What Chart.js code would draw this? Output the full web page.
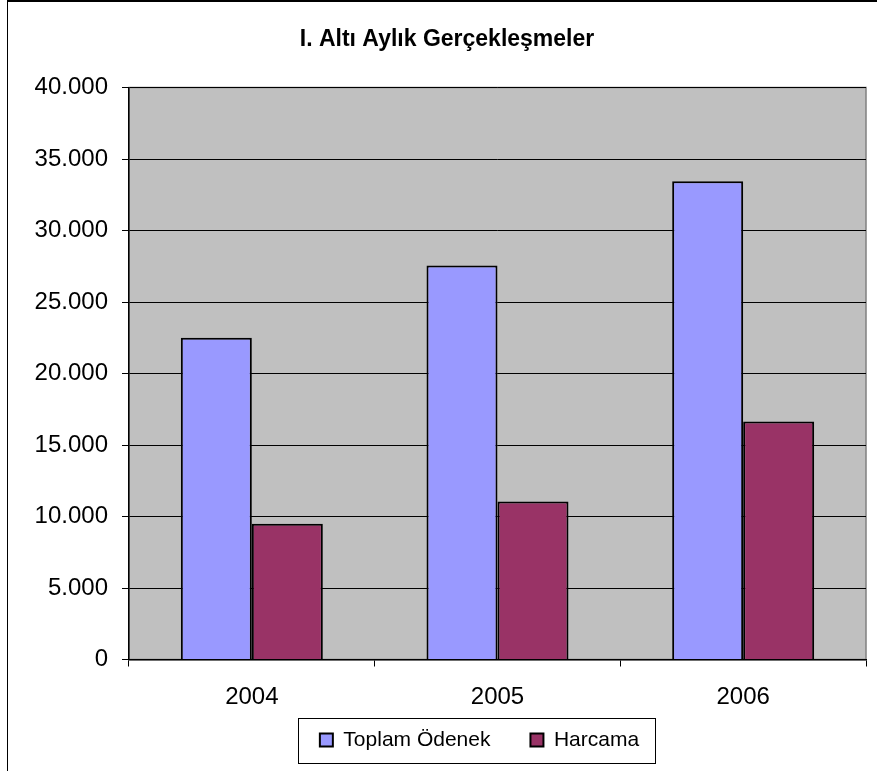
<!DOCTYPE html>
<html>
<head>
<meta charset="utf-8">
<script src="https://cdn.jsdelivr.net/npm/chart.js@4"></script>
<style>
  body { margin: 0; background: #fff; }
  #wrap { position: relative; width: 877px; height: 771px; }
  #frame { position: absolute; left: 7px; top: 0; right: -5px; bottom: -5px;
           border-left: 1.5px solid #000; border-top: 2px solid #000; pointer-events: none; }
</style>
</head>
<body>
<div id="wrap">
  <canvas id="chart" width="877" height="771"></canvas>
  <div id="frame"></div>
</div>
<script>
const years = ['2004', '2005', '2006'];
const toplamOdenek = [22500, 27550, 33450];
const harcama = [9500, 11050, 16650];
const yTicks = { min: 0, max: 40000, step: 5000 };

// 40000 -> "40.000"
function fmt(v) {
    return String(v).replace(/\B(?=(\d{3})+(?!\d))/g, '.');
}

// gray plot background + frame, legend border box
const plotBg = {
    id: 'plotBg',
    afterLayout(chart) {
        // x labels sit lower than the axis box allows, don't clip them
        chart.scales.x.bottom = chart.legend.bottom;
        // legend in the reference is pushed right of the title's centre
        chart.legend.left += 65;
    },
    beforeDraw(chart) {
        const a = chart.chartArea, ctx = chart.ctx;
        ctx.save();
        ctx.fillStyle = '#C0C0C0';
        ctx.fillRect(a.left, a.top, a.right - a.left, a.bottom - a.top);
        ctx.strokeStyle = '#808080';
        ctx.lineWidth = 1.5;
        ctx.strokeRect(a.left, a.top, a.right - a.left, a.bottom - a.top);
        ctx.restore();
    },
    afterDraw(chart) {
        const hb = chart.legend.legendHitBoxes;
        if (!hb || !hb.length) return;
        const ctx = chart.ctx;
        const first = hb[0], last = hb[hb.length - 1];
        const cy = first.top + first.height / 2;
        ctx.save();
        ctx.strokeStyle = '#000';
        ctx.lineWidth = 1;
        ctx.strokeRect(Math.round(first.left - 22) + 0.5, Math.round(cy - 22) + 0.5,
            Math.round(last.left + last.width + 16 - (first.left - 22)), 45);
        ctx.restore();
    }
};

Chart.defaults.font.family = '"Liberation Sans", Arial, sans-serif';
Chart.defaults.color = '#000';

new Chart(document.getElementById('chart'), {
    type: 'bar',
    data: {
        labels: years,
        datasets: [{
            label: 'Toplam Ödenek',
            data: toplamOdenek,
            backgroundColor: '#9999FF',
            borderColor: '#000',
            borderWidth: 2
        }, {
            label: 'Harcama',
            data: harcama,
            backgroundColor: '#993366',
            borderColor: '#000',
            borderWidth: 2
        }]
    },
    options: {
        responsive: false,
        animation: false,
        layout: { padding: { left: 28, right: 11, top: 0, bottom: 10.5 } },
        datasets: { bar: { barPercentage: 1, categoryPercentage: 0.578 } },
        plugins: {
            tooltip: { enabled: false },
            title: {
                display: true,
                text: 'I. Altı Aylık Gerçekleşmeler',
                font: { size: 23, weight: 'bold' },
                color: '#000',
                padding: { top: 25.4, bottom: 34.5 }
            },
            legend: {
                position: 'bottom',
                labels: {
                    font: { size: 21 },
                    boxWidth: 13,
                    boxHeight: 13,
                    padding: 40,
                    color: '#000'
                }
            }
        },
        scales: {
            x: {
                grid: { offset: true, drawOnChartArea: false, drawTicks: true, tickLength: 7, color: '#000' },
                border: { color: '#000', width: 1.5 },
                ticks: { font: { size: 24 }, padding: 16, color: '#000' },
                afterFit(scale) { scale.height = 30; }
            },
            y: {
                min: yTicks.min,
                max: yTicks.max,
                grid: { color: '#000', lineWidth: 1, tickLength: 7 },
                border: { color: '#000', width: 1.5 },
                ticks: {
                    stepSize: yTicks.step,
                    font: { size: 24 },
                    padding: 14,
                    color: '#000',
                    callback: v => fmt(v)
                },
                afterFit(scale) { scale.width = 101; }
            }
        }
    },
    plugins: [plotBg]
});
</script>
</body>
</html>
